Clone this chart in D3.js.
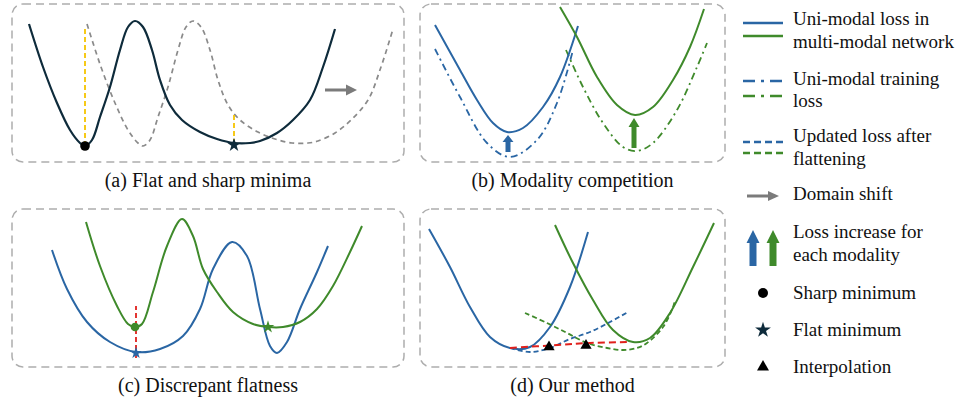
<!DOCTYPE html>
<html>
<head>
<meta charset="utf-8">
<script src="https://cdn.jsdelivr.net/npm/d3@7"></script>
<style>
  body { margin: 0; background: #fff; }
  svg { display: block; }
</style>
</head>
<body>
<svg id="chart" width="956" height="402" font-family="'Liberation Serif', 'Times New Roman', Times, serif"></svg>
<script>
// ---------------- data (θ, loss) in panel units ----------------
const captions = ["(a) Flat and sharp minima", "(b) Modality competition",
                  "(c) Discrepant flatness", "(d) Our method"];

// (a) one landscape with a sharp and a flat minimum; the dashed copy is shifted
const landscapeA = [[4.25,69],[7.75,47.5],[11.25,29.5],[14.5,16],[17,9.5],[18.25,8],[20,11],
  [22,22.5],[24.5,37.5],[27,56],[29,67.5],[30.75,70.5],[32.75,67.5],[35,56],[37,41],
  [39.5,28.5],[42.5,21],[47,15],[51.25,11.5],[55.5,9.5],[59.5,9.5],[62,10.5],[66.25,14.5],
  [70.25,21],[74.5,31],[77.75,47.5],[80.75,66.5]];
const domainShift = 14.5;
const sharpMinA = [18.25, 8];
const flatMinA = [55.5, 8.5];
const gapLinesA = [[18.25, 8, 68], [55.5, 9, 24.5]];     // θ, loss from, loss to
const shiftArrowA = [78.25, 86.25, 36];                   // θ from, θ to, loss

// (b) uni-modal losses inside the multi-modal net vs. uni-modal training
const blueMultiB = [[3.75,68.5],[10,46],[14.25,31],[18.25,19.5],[21.75,15],[25.75,17],
  [30.75,27.5],[35,42.5],[39.5,68]];
const blueUniB = [[3.75,56.5],[10,32.5],[16.75,9.5],[22.5,2.5],[29.25,11],[34.25,29.5],[38.25,56]];
const greenMultiB = [[35,77.5],[39.25,62.5],[44.25,42.5],[49.25,28.5],[53.75,23.5],
  [58.25,27.5],[63.25,41],[67.5,57.5],[71,76.5]];
const greenUniB = [[36.5,56],[40.75,37.5],[45.75,19.5],[50.75,7.5],[54.25,5.5],[58.25,9.5],
  [64.25,26],[69.25,47.5],[71.75,59.5]];
const lossIncreaseB = [[22, 5, 13.5], [53.5, 7, 22]];      // θ, loss from, loss to

// (c) discrepant flatness between the two modalities
const blueC = [[10,58.5],[13.75,39],[18.75,22.5],[24.5,12.5],[31,7.5],[37,9],[42.75,15.5],
  [47,29],[50.25,49],[55,62.5],[58.75,55.5],[62,29],[64.5,10.5],[66.25,7],[68.75,12.5],
  [72,29],[76.25,47.5],[79,60.5]];
const greenC = [[18.5,72.5],[22,50.5],[26.25,30.5],[29,21.5],[30.75,20],[32.5,21.5],
  [35.25,37.5],[38.75,60.5],[42.5,74],[45.25,65.5],[47.75,49],[51.25,37.5],[55.25,27.5],
  [60.25,21.5],[64,20],[67.75,20],[72,22.5],[76.25,29],[80.25,40.5],[84.5,57.5],[87.5,70.5]];
const sharpMinC = [30.75, 20];
const flatMinBlueC = [31, 7];
const flatMinGreenC = [64, 20];
const gapLineC = [31, 4.5, 30.5];

// (d) flattened losses and the interpolation between minima
const blueD = [[2.25,69],[7.5,50],[12.5,30],[17.5,15],[22.5,9.5],[27.5,10],[32.5,20],[37.5,40],[42,67.5]];
const greenD = [[33.75,71],[38.25,52],[43.25,33.5],[48.25,18.5],[53.25,12.5],[57.5,14.5],
  [62.5,27],[68.25,50],[73.5,72]];
const blueFlatD = [[22.5,9.5],[27.5,7.5],[32.5,9.5],[37.5,14],[42.5,17.5],[47.5,22.5],[52,27.5]];
const greenFlatD = [[26.25,27],[31.75,22],[36.75,17],[41.75,12],[46.75,9.5],[50.75,8.5],
  [54.25,9.5],[56.75,12],[60.75,20],[63.25,30],[63.75,33.5]];
const interpLineD = [[22.5,9.5],[34.25,11],[42.5,12],[52,12.5]];
const interpPointsD = [[32.25,10],[41.5,10.75]];

// legend entries
const legendLabels = [
  ["Uni-modal loss in", "multi-modal network"],
  ["Uni-modal training", "loss"],
  ["Updated loss after", "flattening"],
  ["Domain shift"],
  ["Loss increase for", "each modality"],
  ["Sharp minimum"],
  ["Flat minimum"],
  ["Interpolation"]
];

// ---------------- styles ----------------
const BLUE = "#2a66a4", GREEN = "#3f8a2b", NAVY = "#0e2b3b", GRAY = "#8a8a8a",
      ARROW = "#7b7b7b", YELLOW = "#f5c400", RED = "#e0201c", BOX = "#adadad";
const SERIF = "'Liberation Serif', 'Times New Roman', Times, serif";

const svg = d3.select("#chart");
svg.append("rect").attr("width", 956).attr("height", 402).attr("fill", "#fff");

// panel frames: left, top, width, height
const frames = [
  { left: 12,  top: 4,   w: 392, h: 158 },
  { left: 420, top: 4,   w: 305, h: 158 },
  { left: 12,  top: 209, w: 392, h: 158 },
  { left: 420, top: 209, w: 305, h: 158 }
];

const panels = frames.map((f, i) => {
  const g = svg.append("g");
  g.append("rect")
    .attr("x", f.left).attr("y", f.top).attr("width", f.w).attr("height", f.h)
    .attr("rx", 11).attr("ry", 11)
    .attr("fill", "none").attr("stroke", BOX).attr("stroke-width", 1.5)
    .attr("stroke-dasharray", "8,5");
  g.append("text")
    .attr("x", f.left + f.w / 2).attr("y", f.top + f.h + 25)
    .attr("text-anchor", "middle").attr("font-size", 20)
    .attr("font-family", SERIF).attr("fill", "#111")
    .text(captions[i]);
  const x = d3.scaleLinear().domain([0, f.w / 4]).range([f.left, f.left + f.w]);
  const y = d3.scaleLinear().domain([0, f.h / 2]).range([f.top + f.h, f.top]);
  const line = d3.line().x(d => x(d[0])).y(d => y(d[1])).curve(d3.curveCatmullRom.alpha(0.5));
  return { g, x, y, line };
});

function curve(p, data, color, width, dash) {
  p.g.append("path").attr("d", p.line(data))
    .attr("fill", "none").attr("stroke", color).attr("stroke-width", width)
    .attr("stroke-dasharray", dash || null)
    .attr("stroke-linecap", "butt").attr("stroke-linejoin", "round");
}
function vline(p, v, color, width, dash) {
  p.g.append("line")
    .attr("x1", p.x(v[0])).attr("x2", p.x(v[0]))
    .attr("y1", p.y(v[1])).attr("y2", p.y(v[2]))
    .attr("stroke", color).attr("stroke-width", width).attr("stroke-dasharray", dash);
}
function symbol(g, type, size, cx, cy, color) {
  g.append("path").attr("d", d3.symbol().type(type).size(size)())
    .attr("transform", `translate(${cx},${cy})`).attr("fill", color);
}
function upArrow(g, cx, yBase, yTip, shaftW, headW, headH, color) {
  const p = d3.path();
  p.moveTo(cx - shaftW / 2, yBase);
  p.lineTo(cx - shaftW / 2, yTip + headH);
  p.lineTo(cx - headW / 2, yTip + headH);
  p.lineTo(cx, yTip);
  p.lineTo(cx + headW / 2, yTip + headH);
  p.lineTo(cx + shaftW / 2, yTip + headH);
  p.lineTo(cx + shaftW / 2, yBase);
  p.closePath();
  g.append("path").attr("d", p.toString()).attr("fill", color);
}
function rightArrow(g, x0, x1, cy, headL, headH, color) {
  g.append("line").attr("x1", x0).attr("x2", x1 - headL + 1).attr("y1", cy).attr("y2", cy)
    .attr("stroke", color).attr("stroke-width", 3);
  g.append("path")
    .attr("d", `M${x1 - headL},${cy - headH / 2}L${x1},${cy}L${x1 - headL},${cy + headH / 2}Z`)
    .attr("fill", color);
}

// ---------- (a) ----------
const pA = panels[0];
curve(pA, landscapeA.map(d => [d[0] + domainShift, d[1]]), GRAY, 1.7, "5,4");
gapLinesA.forEach(v => vline(pA, v, YELLOW, 1.8, "5,3"));
curve(pA, landscapeA, NAVY, 2.2);
rightArrow(pA.g, pA.x(shiftArrowA[0]), pA.x(shiftArrowA[1]), pA.y(shiftArrowA[2]), 11, 11, ARROW);
pA.g.append("circle").attr("cx", pA.x(sharpMinA[0])).attr("cy", pA.y(sharpMinA[1]))
  .attr("r", 4.8).attr("fill", "#000");
symbol(pA.g, d3.symbolStar, 60, pA.x(flatMinA[0]), pA.y(flatMinA[1]), NAVY);

// ---------- (b) ----------
const pB = panels[1];
curve(pB, blueUniB, BLUE, 1.8, "7,4,2,4");
curve(pB, greenUniB, GREEN, 1.8, "7,4,2,4");
curve(pB, blueMultiB, BLUE, 2);
curve(pB, greenMultiB, GREEN, 2);
upArrow(pB.g, pB.x(lossIncreaseB[0][0]), pB.y(lossIncreaseB[0][1]), pB.y(lossIncreaseB[0][2]), 5, 11, 7, BLUE);
upArrow(pB.g, pB.x(lossIncreaseB[1][0]), pB.y(lossIncreaseB[1][1]), pB.y(lossIncreaseB[1][2]), 5, 11, 9, GREEN);

// ---------- (c) ----------
const pC = panels[2];
curve(pC, blueC, BLUE, 2);
curve(pC, greenC, GREEN, 2);
vline(pC, gapLineC, RED, 1.8, "5,3");
pC.g.append("circle").attr("cx", pC.x(sharpMinC[0])).attr("cy", pC.y(sharpMinC[1]))
  .attr("r", 4.3).attr("fill", GREEN);
symbol(pC.g, d3.symbolStar, 45, pC.x(flatMinBlueC[0]), pC.y(flatMinBlueC[1]), BLUE);
symbol(pC.g, d3.symbolStar, 50, pC.x(flatMinGreenC[0]), pC.y(flatMinGreenC[1]), GREEN);

// ---------- (d) ----------
const pD = panels[3];
curve(pD, blueD, BLUE, 2);
curve(pD, greenD, GREEN, 2);
curve(pD, blueFlatD, BLUE, 1.8, "5,3");
curve(pD, greenFlatD, GREEN, 1.8, "5,3");
curve(pD, interpLineD, RED, 2, "7,4");
interpPointsD.forEach(d => symbol(pD.g, d3.symbolTriangle, 55, pD.x(d[0]), pD.y(d[1]), "#000"));

// ---------------- legend ----------------
const lg = svg.append("g");
const textX = 793, sw0 = 743, sw1 = 783, swMid = 763;
const baselines = [[25, 48], [85, 107], [142, 165], [200], [238, 261], [299], [336], [373]];
legendLabels.forEach((lines, i) => {
  lines.forEach((t, j) => {
    lg.append("text").attr("x", textX).attr("y", baselines[i][j])
      .attr("font-size", 19).attr("font-family", SERIF).attr("fill", "#111").text(t);
  });
});
function swatch(y, color, dash) {
  lg.append("line").attr("x1", sw0).attr("x2", sw1).attr("y1", y).attr("y2", y)
    .attr("stroke", color).attr("stroke-width", 2.6).attr("stroke-dasharray", dash || null);
}
swatch(23, BLUE); swatch(36, GREEN);
swatch(81, BLUE, "12,6,3,6"); swatch(96, GREEN, "12,6,3,6");
swatch(142, BLUE, "7,4"); swatch(153, GREEN, "7,4");
rightArrow(lg, 747, 779, 196, 11, 10, ARROW);
upArrow(lg, 753, 266, 230, 7, 13, 13, BLUE);
upArrow(lg, 773, 266, 230, 7, 13, 13, GREEN);
lg.append("circle").attr("cx", swMid).attr("cy", 293).attr("r", 5).attr("fill", "#000");
symbol(lg, d3.symbolStar, 78, swMid, 330, NAVY);
symbol(lg, d3.symbolTriangle, 62, swMid, 367, "#000");
</script>
</body>
</html>
